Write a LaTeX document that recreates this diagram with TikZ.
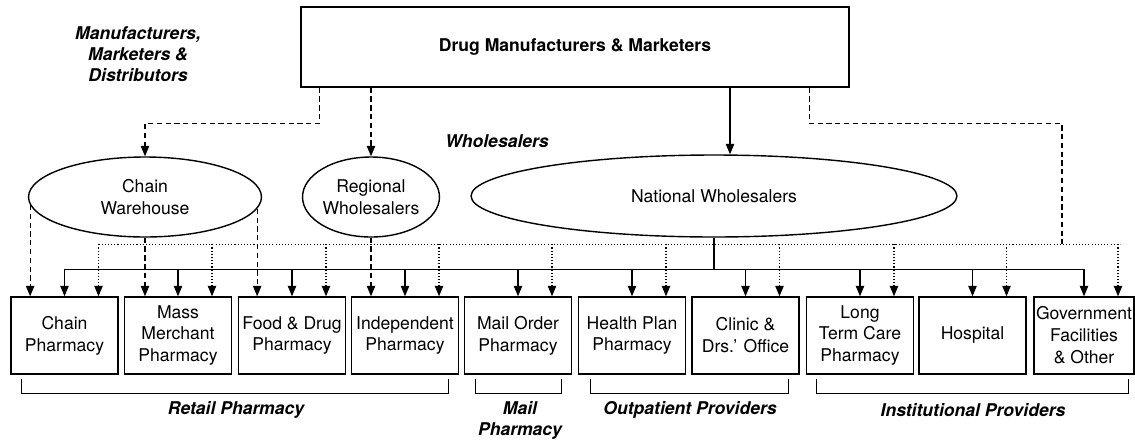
\documentclass[tikz,border=0pt]{standalone}
\usepackage{fontspec}
\setmainfont{TeX Gyre Heros}
\usetikzlibrary{arrows.meta, calc, positioning, shapes.geometric}

\tikzset{
    every node/.style={font=\fontsize{10}{12.5}\selectfont},
    pbox/.style={draw, line width=0.8pt, minimum width=2.14cm, minimum height=1.54cm, align=center, inner sep=1pt},
    whnode/.style={draw, ellipse, line width=0.8pt, inner sep=0pt, align=center, minimum height=1.6cm},
    solidarrow/.style={line width=0.7pt, -{Triangle[length=6pt,width=4.8pt]}},
    dasharrow/.style={solidarrow, dash pattern=on 3pt off 2pt},
    dotarrow/.style={solidarrow, dash pattern=on 0.6pt off 1.2pt},
    dashline/.style={line width=0.7pt, dash pattern=on 3pt off 2pt},
    dotline/.style={line width=0.7pt, dash pattern=on 0.6pt off 1.2pt},
    grouplabel/.style={font=\fontsize{10}{12}\selectfont\bfseries\itshape, align=center}
}

\begin{document}
\begin{tikzpicture}[x=0.02cm, y=-0.02cm]
    \useasboundingbox (0,0) rectangle (1135,440);

    % Manufacturers
    \node[draw, line width=0.8pt, minimum width=10.96cm, minimum height=1.6cm, font=\fontsize{10}{12.5}\selectfont\bfseries] (mfr) at (575,47) {Drug Manufacturers \& Marketers};
    \node[grouplabel] (mfrlabel) at (138,54) {Manufacturers,\\Marketers \&\\Distributors};

    % Wholesalers
    \node[grouplabel] (whlabel) at (497,141) {Wholesalers};
    \node[whnode, minimum width=4.66cm] (chainwh) at (145,197) {Chain\\Warehouse};
    \node[whnode, minimum width=2.74cm] (regwh) at (371,197) {Regional\\Wholesalers};
    \node[whnode, minimum width=9.72cm, minimum height=1.64cm] (natwh) at (714,196) {National Wholesalers};

    % Pharmacies and providers
    \node[pbox] (p1) at (64.5,335.5) {Chain\\Pharmacy};
    \node[pbox] (p2) at (178,335.5) {Mass\\Merchant\\Pharmacy};
    \node[pbox] (p3) at (292,335.5) {Food \& Drug\\Pharmacy};
    \node[pbox] (p4) at (405,335.5) {Independent\\Pharmacy};
    \node[pbox] (p5) at (518,335.5) {Mail Order\\Pharmacy};
    \node[pbox] (p6) at (632,335.5) {Health Plan\\Pharmacy};
    \node[pbox] (p7) at (745.5,335.5) {Clinic \&\\Drs.' Office};
    \node[pbox] (p8) at (860,335.5) {Long\\Term Care\\Pharmacy};
    \node[pbox] (p9) at (972.5,335.5) {Hospital};
    \node[pbox, minimum width=2cm, inner sep=0pt] (p10) at (1084,335.5) {Government\\Facilities\\\& Other};

    % Flows from manufacturers
    \draw[dasharrow] ($(mfr.south west)+(19,0)$) -- ++(0,36) -| (chainwh.north);
    \draw[dasharrow] (regwh.north |- mfr.south) -- (regwh.north);
    \draw[solidarrow] ($(mfr.south)+(155,0)$) -- ($(natwh.north)+(16,0)$);
    \draw[dashline] ($(mfr.south east)+(-40,0)$) -- ++(0,36) -| ($(p10.north)+(-22,-52)$);

    % Buses
    \draw[dotline] ($(p1.north)+(34,-52)$) -- ($(p10.north)+(36,-52)$);
    \draw[line width=0.7pt] ($(p1.north)+(0,-27)$) -- ($(p10.north)+(0,-27)$);
    \draw[line width=0.7pt] (natwh.south) -- ($(natwh.south |- p1.north)+(0,-27)$);
    \foreach \i in {1,...,10} {
        \draw[solidarrow] ($(p\i.north)+(0,-27)$) -- (p\i.north);
        \draw[dotarrow] ($(p\i.north)+(34,-52)$) -- ($(p\i.north)+(34,0)$);
    }

    % Chain warehouse and regional wholesalers
    \draw[dasharrow] (chainwh.184.5) -- (chainwh.184.5 |- p1.north);
    \draw[dasharrow] (chainwh.south) -- (chainwh.south |- p2.north);
    \draw[dasharrow] (chainwh.354) -- (chainwh.354 |- p3.north);
    \draw[dasharrow] (regwh.south) -- (regwh.south |- p4.north);

    % Groups
    \draw[line width=0.7pt] ($(p1.south west)+(11,4)$) -- ++(0,15) -| ($(p4.south east)+(-11,4)$);
    \draw[line width=0.7pt] ($(p5.south west)+(12,4)$) -- ++(0,15) -| ($(p5.south east)+(-11,4)$);
    \draw[line width=0.7pt] ($(p6.south west)+(13,4)$) -- ++(0,15) -| ($(p7.south east)+(-11,4)$);
    \draw[line width=0.7pt] ($(p8.south west)+(11,4)$) -- ++(0,15) -| ($(p10.south east)+(-6,4)$);
    \node[grouplabel] (retail) at (236,410) {Retail Pharmacy};
    \node[grouplabel] (mail) at (520,420) {Mail\\Pharmacy};
    \node[grouplabel] (outpat) at (690,410) {Outpatient Providers};
    \node[grouplabel] (instit) at (973,410) {Institutional Providers};
\end{tikzpicture}
\end{document}
